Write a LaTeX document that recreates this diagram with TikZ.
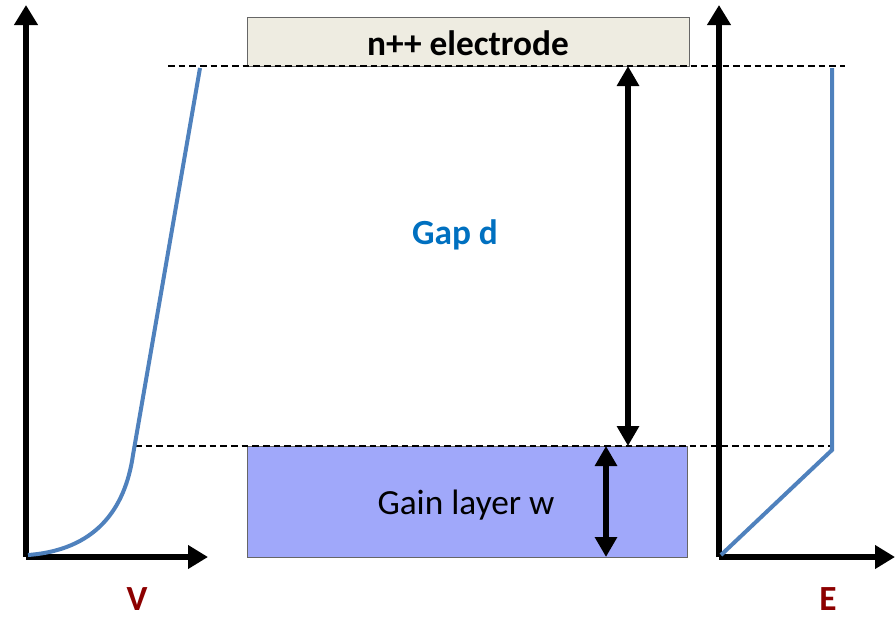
\documentclass[tikz,border=0pt]{standalone}
\usepackage{fontspec}
\setmainfont{Carlito}
\usetikzlibrary{arrows.meta}
\definecolor{curveblue}{RGB}{79,129,189}
\definecolor{gapblue}{RGB}{0,112,192}
\definecolor{axisred}{RGB}{140,0,0}
\definecolor{electrodefill}{RGB}{238,236,225}
\definecolor{gainfill}{RGB}{160,168,250}
\tikzset{
  axis/.style={line width=4.5pt,-{Triangle[width=17pt,length=15pt]}},
  span/.style={line width=3.8pt,{Triangle[width=16pt,length=15pt]}-{Triangle[width=16pt,length=15pt]}},
  level/.style={line width=1.5pt,dash pattern=on 5pt off 3pt},
  curve/.style={curveblue,line width=3pt},
  layer/.style={draw=black!60,line width=0.9pt,inner sep=0pt,anchor=north west},
  lbl/.style={font=\fontsize{26.5}{30}\selectfont},
  blbl/.style={font=\fontsize{26.5}{30}\selectfont\bfseries},
  axlbl/.style={blbl,text=axisred,inner sep=0pt}
}
\begin{document}
\begin{tikzpicture}[x=0.75pt,y=-0.75pt]
\useasboundingbox (0,0) rectangle (895,621);

% layers
\node[layer,fill=electrodefill,minimum width=442*0.75pt,minimum height=49*0.75pt] (elec) at (247,17) {};
\node[blbl] (eleclbl) at (468,43) {n++ electrode};
\node[layer,fill=gainfill,minimum width=440*0.75pt,minimum height=111*0.75pt] (gain) at (247,446) {};
\node[lbl] (gainlbl) at (466,505) {Gain layer w};
\node[blbl,text=gapblue] (gaplbl) at (455,235) {Gap d};

% level lines
\coordinate (topL) at (168,66);
\coordinate (topR) at (845,66);
\coordinate (botL) at (135,446);
\coordinate (botR) at (833,446);
\draw[level] (topL) -- (topR);
\draw[level] (botL) -- (botR);

% potential plot
\coordinate (vO) at (26,557);
\coordinate (vY) at (26,5);
\coordinate (vX) at (208,557);
\draw[axis] (vO) -- (vY);
\draw[axis] (vO) -- (vX);
\coordinate (v0) at (28,555);
\coordinate (v1) at (133,455);
\coordinate (v2) at (200,68);
\draw[curve] (v0) .. controls (95,550) and (125,510) .. (v1) -- (v2);
\node[axlbl] (vlbl) at (137,599) {V};

% field plot
\coordinate (eO) at (719,557);
\coordinate (eY) at (719,5);
\coordinate (eX) at (895,557);
\draw[axis] (eO) -- (eY);
\draw[axis] (eO) -- (eX);
\coordinate (e0) at (721,555);
\coordinate (e1) at (832,450);
\coordinate (e2) at (832,68);
\draw[curve] (e0) -- (e1) -- (e2);
\node[axlbl] (elbl) at (828,599) {E};

% thickness markers
\coordinate (gT) at (628,66);
\coordinate (gB) at (628,446);
\draw[span] (gT) -- (gB);
\coordinate (wT) at (606,446);
\coordinate (wB) at (606,557);
\draw[span] (wT) -- (wB);
\end{tikzpicture}
\end{document}
